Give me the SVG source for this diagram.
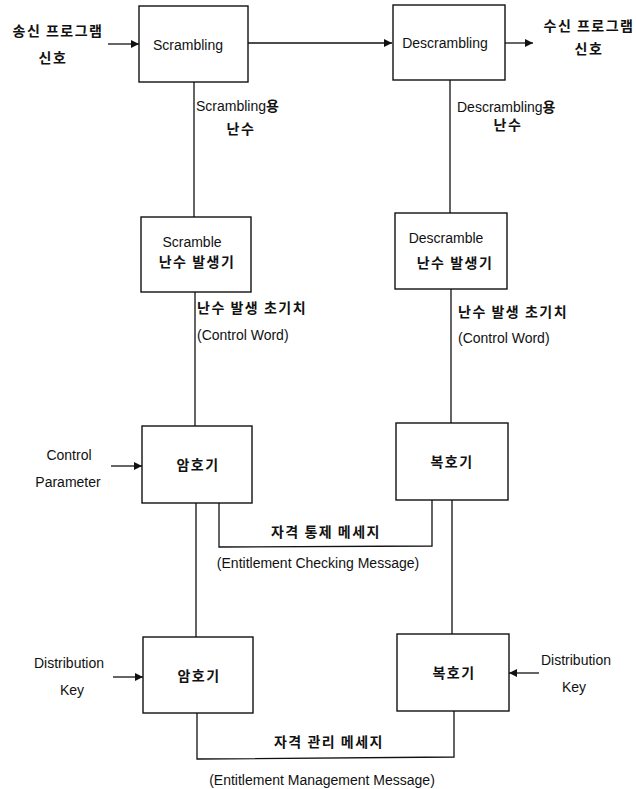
<svg xmlns="http://www.w3.org/2000/svg" width="636" height="789" viewBox="0 0 636 789">
<style>
.box{fill:#fff;stroke:#111;stroke-width:1.4}
.ln{fill:none;stroke:#111;stroke-width:1.3}
.t{font-family:"Liberation Sans","Noto Sans CJK KR",sans-serif;font-size:14px;fill:#111}
.k{font-family:"Noto Sans CJK KR","Liberation Sans",sans-serif;font-size:14px;font-weight:bold;fill:#111;letter-spacing:1.5px}
.m{text-anchor:middle}
</style>
<defs>
<marker id="ah" viewBox="0 0 10 10" refX="10" refY="5" markerWidth="8" markerHeight="8" markerUnits="userSpaceOnUse" orient="auto">
<path d="M0,0 L10,5 L0,10 z" fill="#111"/>
</marker>
</defs>
<g id="connectors">
<line class="ln" x1="108" y1="44" x2="139" y2="44" marker-end="url(#ah)"/>
<line class="ln" x1="248" y1="43" x2="392" y2="43" marker-end="url(#ah)"/>
<line class="ln" x1="505" y1="43" x2="533" y2="43" marker-end="url(#ah)"/>
<line class="ln" x1="194" y1="82" x2="194" y2="217"/>
<line class="ln" x1="195" y1="292" x2="195" y2="426"/>
<line class="ln" x1="196" y1="503" x2="196" y2="637"/>
<line class="ln" x1="450" y1="80" x2="450" y2="213"/>
<line class="ln" x1="451" y1="289" x2="451" y2="423"/>
<line class="ln" x1="452" y1="500" x2="452" y2="634"/>
<line class="ln" x1="111" y1="466" x2="142" y2="466" marker-end="url(#ah)"/>
<polyline class="ln" points="219,503 219,547 432,546 432,500"/>
<line class="ln" x1="113" y1="677" x2="143" y2="677" marker-end="url(#ah)"/>
<line class="ln" x1="539" y1="673" x2="509" y2="673" marker-end="url(#ah)"/>
<polyline class="ln" points="197,713 197,759 454,757 454,711"/>
</g>
<g id="scrambling">
<rect class="box" x="139" y="6" width="109" height="76"/>
<text class="t m" x="188" y="50">Scrambling</text>
</g>
<g id="descrambling">
<rect class="box" x="393" y="5" width="112" height="75"/>
<text class="t m" x="445" y="48">Descrambling</text>
</g>
<g id="scramble-gen">
<rect class="box" x="141" y="217" width="110" height="75"/>
<text class="t m" x="192" y="247">Scramble</text>
<text class="k m" x="197" y="267">난수 발생기</text>
</g>
<g id="descramble-gen">
<rect class="box" x="395" y="213" width="112" height="76"/>
<text class="t m" x="446" y="243">Descramble</text>
<text class="k m" x="455" y="268">난수 발생기</text>
</g>
<g id="encryptor1">
<rect class="box" x="142" y="426" width="110" height="77"/>
<text class="k m" x="198" y="470">암호기</text>
</g>
<g id="decryptor1">
<rect class="box" x="396" y="423" width="112" height="77"/>
<text class="k m" x="452" y="467">복호기</text>
</g>
<g id="encryptor2">
<rect class="box" x="143" y="637" width="110" height="76"/>
<text class="k m" x="199" y="681">암호기</text>
</g>
<g id="decryptor2">
<rect class="box" x="397" y="634" width="112" height="77"/>
<text class="k m" x="454" y="678">복호기</text>
</g>
<g id="labels">
<text class="k m" x="58" y="36">송신 프로그램</text>
<text class="k m" x="53" y="63">신호</text>
<text class="k m" x="589" y="31">수신 프로그램</text>
<text class="k m" x="589" y="54">신호</text>
<text class="t" x="196" y="111">Scrambling<tspan class="k">용</tspan></text>
<text class="k m" x="241" y="134">난수</text>
<text class="t" x="457" y="112">Descrambling<tspan class="k">용</tspan></text>
<text class="k m" x="508" y="130">난수</text>
<text class="k" x="197" y="313">난수 발생 초기치</text>
<text class="t" x="197" y="340">(Control Word)</text>
<text class="k" x="458" y="317">난수 발생 초기치</text>
<text class="t" x="458" y="343">(Control Word)</text>
<text class="t m" x="69" y="460">Control</text>
<text class="t m" x="68" y="487">Parameter</text>
<text class="k m" x="326" y="537">자격 통제 메세지</text>
<text class="t m" x="318" y="568">(Entitlement Checking Message)</text>
<text class="t m" x="69" y="668">Distribution</text>
<text class="t m" x="72" y="695">Key</text>
<text class="t m" x="576" y="665">Distribution</text>
<text class="t m" x="574" y="692">Key</text>
<text class="k m" x="329" y="747">자격 관리 메세지</text>
<text class="t m" x="322" y="785">(Entitlement Management Message)</text>
</g>
</svg>
